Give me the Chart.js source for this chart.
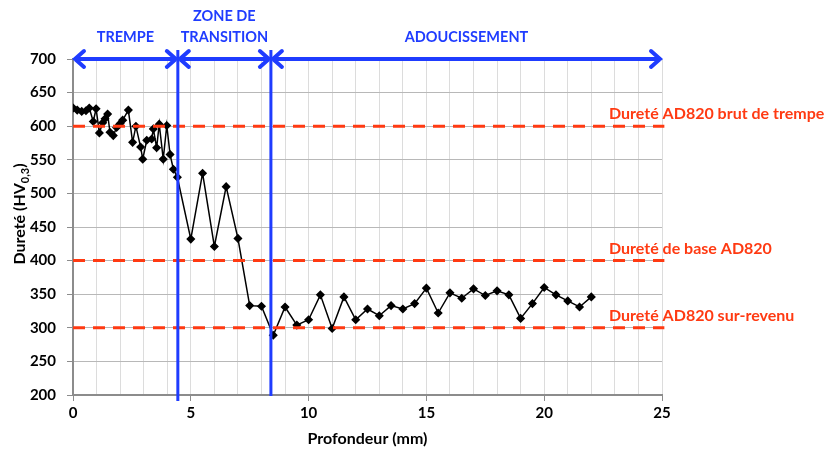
<!DOCTYPE html>
<html lang="fr">
<head>
    <meta charset="UTF-8">
    <script src="https://cdn.jsdelivr.net/npm/chart.js"></script>
    <title>Profil de dureté</title>
    <style>
        body { margin: 0; background: #fff; }
    </style>
</head>
<body>
<canvas id="container" width="825" height="451"></canvas>

<script>
    // mesures de dureté
    const depth = [0.01, 0.18, 0.37, 0.55, 0.69, 0.86, 0.98, 1.12, 1.26, 1.36, 1.47, 1.57, 1.71, 1.85, 2.0, 2.11,
        2.35, 2.53, 2.67, 2.87, 2.96, 3.13, 3.34, 3.41, 3.55, 3.66, 3.83, 3.98, 4.12, 4.26, 4.43,
        5.0, 5.5, 6.0, 6.5, 7.0, 7.5, 8.0, 8.5, 9.0, 9.5, 10.0, 10.5, 11.0, 11.5, 12.0, 12.5, 13.0, 13.5,
        14.0, 14.5, 15.0, 15.5, 16.0, 16.5, 17.0, 17.5, 18.0, 18.5, 19.0, 19.5, 20.0, 20.5, 21.0, 21.5, 22.0];
    const hardness = [627, 624, 622, 623, 627, 607, 626, 590, 605, 611, 618, 591, 586, 598, 604, 609,
        624, 576, 600, 569, 551, 579, 581, 596, 568, 603, 551, 601, 558, 536, 524,
        432, 530, 421, 510, 433, 333, 332, 289, 331, 304, 312, 349, 299, 346, 312, 328, 318, 333,
        328, 336, 359, 322, 352, 344, 358, 348, 355, 349, 314, 336, 360, 349, 340, 331, 346];

    // niveaux de référence
    const refValues = [600, 400, 300];
    const refLabels = ['Dureté AD820 brut de trempe', 'Dureté de base AD820', 'Dureté AD820 sur-revenu'];

    // limites des zones
    const zoneBounds = [0, 4.45, 8.4, 25];
    const zoneLabels = [['TREMPE'], ['ZONE DE', 'TRANSITION'], ['ADOUCISSEMENT']];

    const ctx = document.getElementById('container').getContext('2d');
    const RED = '#ff3a12';
    const BLUE = '#1f3cff';

    const refSets = refValues.map(v => ({
        data: [{x: 0, y: v}, {x: 25.1, y: v}],
        borderColor: RED,
        borderWidth: 3,
        borderDash: [12, 8],
        pointRadius: 0,
        clip: false,
        order: 0
    }));

    const overlay = {
        id: 'overlay',
        afterDraw(chart) {
            const c = chart.ctx;
            const x = chart.scales.x, y = chart.scales.y;
            c.save();

            // lignes verticales bleues
            c.strokeStyle = BLUE;
            c.lineWidth = 3;
            [zoneBounds[1], zoneBounds[2]].forEach((b, i) => {
                const px = x.getPixelForValue(b);
                c.beginPath();
                c.moveTo(px, 50);
                c.lineTo(px, i === 0 ? 401 : 396);
                c.stroke();
            });

            // flèches
            const ay = y.getPixelForValue(700);
            c.lineWidth = 4;
            c.lineCap = 'round';
            for (let i = 0; i < zoneBounds.length - 1; i++) {
                const x1 = x.getPixelForValue(zoneBounds[i]) + 2;
                const x2 = x.getPixelForValue(zoneBounds[i + 1]) - 2;
                c.beginPath();
                c.moveTo(x1, ay);
                c.lineTo(x2, ay);
                c.moveTo(x1 + 9, ay - 8);
                c.lineTo(x1, ay);
                c.lineTo(x1 + 9, ay + 8);
                c.moveTo(x2 - 9, ay - 8);
                c.lineTo(x2, ay);
                c.lineTo(x2 - 9, ay + 8);
                c.stroke();
            }

            // noms des zones
            c.fillStyle = BLUE;
            c.font = 'bold 14.5px Lato';
            c.textAlign = 'center';
            c.textBaseline = 'middle';
            zoneLabels.forEach((lines, i) => {
                const cx = (x.getPixelForValue(zoneBounds[i]) + x.getPixelForValue(zoneBounds[i + 1])) / 2;
                lines.forEach((t, j) => {
                    c.fillText(t, cx, 37 - (lines.length - 1 - j) * 21);
                });
            });

            // étiquettes des niveaux
            c.fillStyle = RED;
            c.textAlign = 'left';
            c.textBaseline = 'alphabetic';
            c.font = 'bold 16px Lato';
            refValues.forEach((v, i) => {
                c.fillText(refLabels[i], 609, y.getPixelForValue(v) - 7);
            });

            // titre de l'axe Y avec indice
            c.translate(20, 214);
            c.rotate(-Math.PI / 2);
            c.fillStyle = '#000';
            c.textBaseline = 'middle';
            const main = 'Dureté (HV';
            const sub = '0,3';
            c.font = 'bold 16px Lato';
            const w1 = c.measureText(main).width;
            const w3 = c.measureText(')').width;
            c.font = 'bold 11px Lato';
            const w2 = c.measureText(sub).width;
            let sx = -(w1 + w2 + w3) / 2;
            c.font = 'bold 16px Lato';
            c.textAlign = 'left';
            c.fillText(main, sx, 0);
            c.font = 'bold 11px Lato';
            c.fillText(sub, sx + w1, 5);
            c.font = 'bold 16px Lato';
            c.fillText(')', sx + w1 + w2, 0);
            c.restore();
        }
    };

    const myChart = new Chart(ctx, {
        type: 'line',
        data: {
            datasets: [{
                data: depth.map((d, i) => ({x: d, y: hardness[i]})),
                borderColor: '#000',
                backgroundColor: '#000',
                borderWidth: 1.5,
                pointStyle: 'rectRot',
                pointRadius: 3.5,
                tension: 0,
                order: 1
            }, ...refSets]
        },
        options: {
            responsive: false,
            animation: false,
            layout: {padding: {top: 59, right: 163, left: 0, bottom: 0}},
            plugins: {legend: {display: false}, tooltip: {enabled: false}},
            scales: {
                x: {
                    type: 'linear',
                    min: 0,
                    max: 25,
                    afterFit: s => { s.height = 56; },
                    border: {color: '#8c8c8c', width: 2},
                    grid: {
                        color: '#dcdcdc',
                        tickLength: 6,
                        tickColor: c => (c.tick && c.tick.value % 5 === 0) ? '#8c8c8c' : 'rgba(0,0,0,0)'
                    },
                    ticks: {
                        stepSize: 1,
                        autoSkip: false,
                        maxRotation: 0,
                        padding: 3,
                        color: '#000',
                        font: {family: 'Lato', size: 15, weight: 'bold'},
                        callback: v => v % 5 === 0 ? v : ''
                    },
                    title: {
                        display: true,
                        text: 'Profondeur (mm)',
                        color: '#000',
                        padding: {top: 2, bottom: 3},
                        font: {family: 'Lato', size: 16, weight: 'bold'}
                    }
                },
                y: {
                    min: 200,
                    max: 700,
                    afterFit: s => { s.width = 73; },
                    border: {color: '#8c8c8c', width: 2},
                    grid: {color: '#b8b8b8', tickLength: 6, tickColor: '#8c8c8c'},
                    ticks: {
                        stepSize: 50,
                        padding: 11,
                        color: '#000',
                        font: {family: 'Lato', size: 15, weight: 'bold'}
                    }
                }
            }
        },
        plugins: [overlay]
    });
</script>
</body>
</html>
